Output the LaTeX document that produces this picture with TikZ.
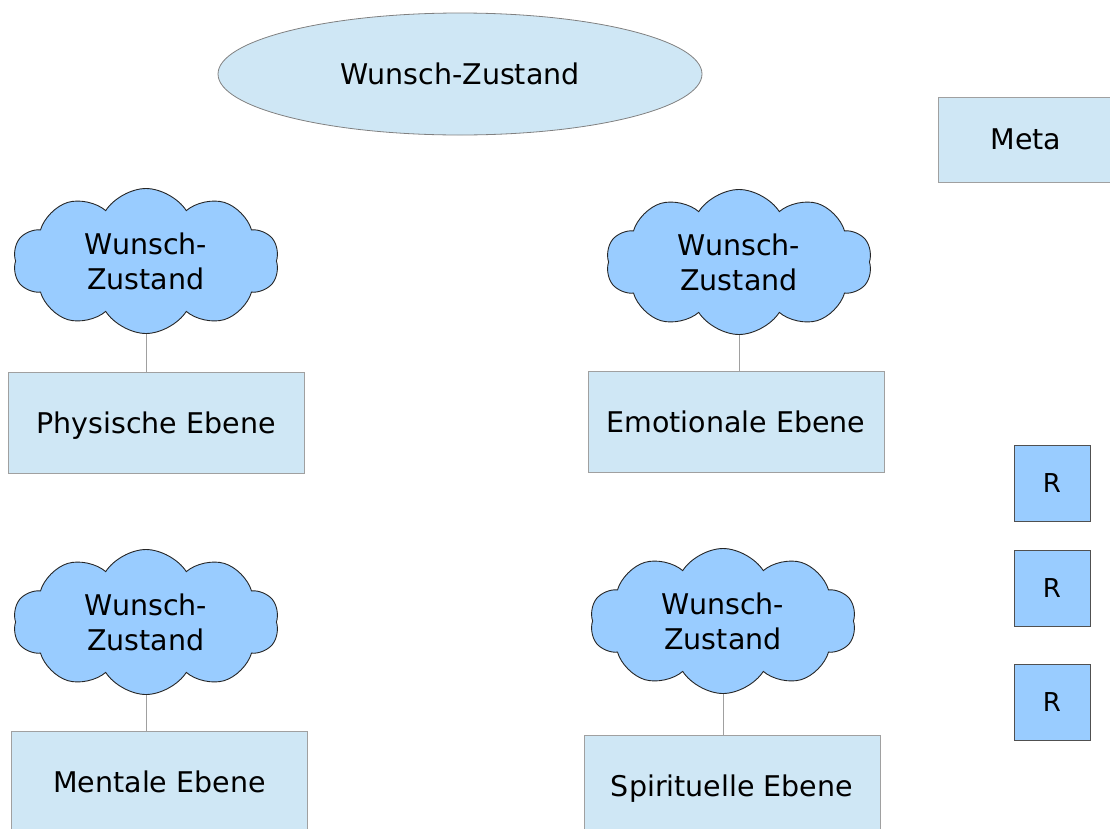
\documentclass[tikz,border=0pt]{standalone}
\usepackage{fontspec}
\setmainfont{DejaVu Sans}
\usetikzlibrary{shapes.geometric,shapes.symbols,backgrounds}
\definecolor{paleblue}{RGB}{207,231,245}
\definecolor{skyblue}{RGB}{153,204,255}
\definecolor{boxline}{RGB}{160,160,160}
\definecolor{rline}{RGB}{80,80,80}
\tikzset{
  txt/.style={font=\fontsize{28.5}{35}\selectfont, text=black, align=center},
  levelbox/.style={txt, rectangle, draw=boxline, line width=1pt, fill=paleblue, minimum width=296pt, minimum height=101pt, inner sep=0pt, text depth=0pt},
  wish/.style={txt, cloud, draw=black!85, line width=0.9pt, fill=skyblue, cloud puffs=10, cloud puff arc=115, aspect=1.85, minimum width=266pt, minimum height=145pt, inner sep=0pt},
  rbox/.style={txt, font=\fontsize{26}{30}\selectfont, rectangle, draw=rline, line width=1pt, fill=skyblue, minimum width=76pt, minimum height=76pt, inner sep=0pt},
  link/.style={draw=boxline, line width=1pt}
}
\begin{document}
\begin{tikzpicture}[x=1pt,y=-1pt]
\useasboundingbox (0,0) rectangle (1110,828);
\node[txt, ellipse, draw=gray, line width=0.8pt, fill=paleblue, minimum width=484pt, minimum height=122pt, inner sep=0pt] (goal) at (460,74) {Wunsch-Zustand};
\node[levelbox, minimum width=176pt, minimum height=85pt] (meta) at (1026,139.5) {Meta};

\node[wish] (c1) at (146,261) {Wunsch-\\Zustand};
\node[wish] (c2) at (739,262) {Wunsch-\\Zustand};
\node[wish] (c3) at (146,622) {Wunsch-\\Zustand};
\node[wish] (c4) at (723,621) {Wunsch-\\Zustand};

\node[levelbox] (p1) at (156,422.5) {Physische Ebene};
\node[levelbox] (p2) at (736,421.5) {Emotionale Ebene};
\node[levelbox] (p3) at (159.5,781.5) {Mentale Ebene};
\node[levelbox] (p4) at (732,785.5) {Spirituelle Ebene};

\begin{scope}[on background layer]
\draw[link] (c1.center) -- (c1.center |- p1.north);
\draw[link] (c2.center) -- (c2.center |- p2.north);
\draw[link] (c3.center) -- (c3.center |- p3.north);
\draw[link] (c4.center) -- (c4.center |- p4.north);
\end{scope}

\node[rbox] (r1) at (1052,483) {R};
\node[rbox] (r2) at (1052,588) {R};
\node[rbox] (r3) at (1052,702) {R};
\end{tikzpicture}
\end{document}
